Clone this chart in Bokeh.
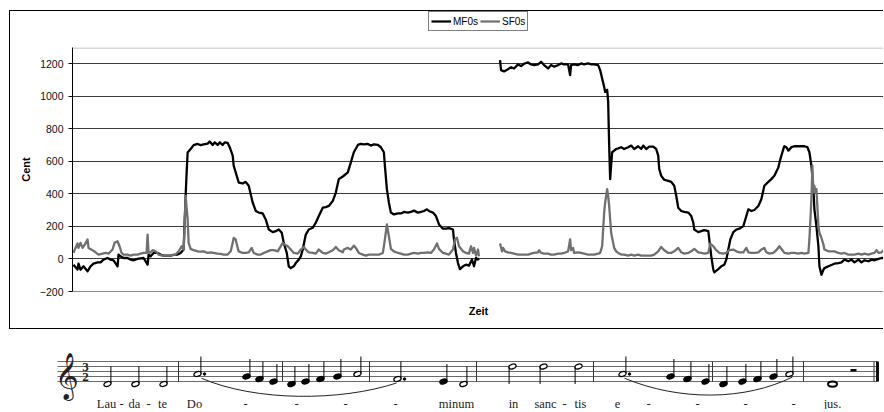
import numpy as np
from bokeh.plotting import figure
from bokeh.models import Range1d, FixedTicker, Legend, LegendItem, Span
from bokeh.layouts import column
from bokeh.embed import file_html
from bokeh.resources import INLINE
from bokeh.core.properties import value

nan = float("nan")

# ---------------- chart data (time in frames, pitch in cent) ----------------
mf0_time = [
    1, 5, 6, 8, 11, 15, 18, 21, 25, 28,
    31, 35, 38, 41, 45, 46, 48, 51, 55, 58,
    61, 65, 68, 71, 75, 76, 78, 81, 85, 88,
    91, 95, 98, 101, 105, 108, 111, 113, 114, 115,
    118, 121, 125, 128, 131, 135, 137, 140, 142, 145,
    147, 150, 152, 155, 157, 160, 161, 163, 166, 170,
    173, 176, 180, 183, 186, 190, 193, 196, 200, 203,
    206, 209, 211, 214, 216, 218, 221, 223, 226, 228,
    230, 233, 236, 240, 243, 246, 250, 253, 256, 260,
    263, 266, 270, 275, 278, 281, 285, 288, 291, 295,
    298, 301, 305, 308, 311, 312, 314, 316, 318, 321,
    325, 328, 331, 335, 338, 341, 345, 348, 351, 354,
    356, 360, 363, 366, 370, 373, 376, 380, 381, 383,
    385, 387, 390, 393, 396, 399, 401, 403, 405, 406,
    nan,
    427, 428, 431, 435, 438, 441, 445, 448, 451, 455,
    458, 461, 465, 468, 471, 475, 478, 481, 485, 488,
    491, 495, 497, 498, 501, 505, 508, 511, 515, 518,
    521, 525, 527, 529, 531, 532, 534, 535, 536, 537,
    538, 539, 541, 543, 545, 548, 551, 555, 558, 561,
    565, 568, 570, 573, 576, 580, 583, 585, 586, 588,
    591, 595, 598, 601, 603, 605, 608, 611, 615, 618,
    620, 621, 625, 628, 631, 635, 636, 638, 640, 641,
    645, 648, 651, 653, 655, 657, 660, 663, 666, 670,
    673, 675, 678, 681, 685, 688, 691, 695, 698, 701,
    705, 707, 710, 711, 713, 715, 718, 721, 725, 728,
    731, 734, 736, 738, 740, 741, 743, 745, 746, 748,
    750, 751, 755, 758, 761, 765, 768, 771, 775, 778,
    781, 785, 788, 791, 795, 798, 801, 805, 808, 811,
]
mf0_cent = [
    -35, -65, -29, -66, -45, -76, -45, -29, -21, -21,
    -4, 6, -4, -8, -45, 27, 16, 6, 6, -4,
    -8, 0, 4, 6, -35, 27, 16, 37, 37, 27,
    21, 21, 21, 25, 27, 37, 58, 390, 532, 655,
    676, 700, 707, 700, 705, 709, 722, 701, 717, 701,
    717, 701, 717, 713, 687, 635, 573, 532, 470, 464,
    474, 450, 346, 295, 285, 280, 243, 181, 165, 171,
    181, 161, 99, 37, -45, -56, -45, -25, -4, 16,
    58, 150, 181, 192, 223, 264, 315, 319, 326, 357,
    408, 491, 507, 532, 594, 656, 701, 707, 705, 707,
    697, 705, 701, 687, 656, 573, 429, 346, 285, 274,
    280, 280, 289, 285, 289, 297, 285, 289, 295, 305,
    295, 285, 264, 212, 186, 186, 190, 181, 120, 37,
    -25, -62, -45, -35, -41, -4, -45, 6, -4, 4,
    nan,
    1223, 1161, 1153, 1167, 1179, 1171, 1196, 1186, 1200, 1208,
    1196, 1192, 1196, 1212, 1192, 1171, 1192, 1182, 1192, 1202,
    1196, 1196, 1130, 1192, 1196, 1192, 1202, 1196, 1202, 1196,
    1196, 1192, 1161, 1109, 1058, 1027, 1040, 967, 700, 491,
    580, 656, 666, 676, 680, 687, 676, 687, 697, 676,
    693, 676, 697, 676, 691, 691, 676, 635, 553, 511,
    487, 480, 474, 450, 388, 315, 295, 289, 285, 264,
    223, 181, 165, 171, 177, 171, 120, 16, -66, -82,
    -62, -45, -35, -4, 58, 120, 165, 181, 186, 202,
    264, 305, 295, 301, 326, 367, 450, 474, 491, 511,
    563, 614, 676, 693, 687, 666, 687, 693, 693, 693,
    693, 687, 656, 573, 429, 305, 202, 78, -45, -97,
    -66, -56, -45, -37, -29, -25, -21, -4, -14, -4,
    -21, -4, -21, -8, -14, -4, -8, 0, 6, 6,
]
sf0_time = [
    1, 3, 5, 6, 8, 10, 13, 15, 16, 20,
    23, 26, 30, 33, 36, 40, 42, 45, 47, 49,
    51, 55, 58, 61, 65, 68, 71, 74, 75, 76,
    78, 80, 83, 86, 90, 93, 96, 100, 103, 106,
    109, 111, 112, 113, 115, 116, 118, 121, 125, 128,
    131, 135, 138, 141, 145, 148, 151, 155, 158, 160,
    161, 163, 165, 166, 170, 173, 176, 179, 181, 185,
    188, 191, 195, 198, 201, 205, 207, 210, 212, 215,
    218, 221, 225, 228, 231, 233, 236, 240, 243, 246,
    250, 253, 256, 260, 263, 266, 270, 271, 275, 278,
    281, 283, 286, 290, 293, 296, 300, 303, 306, 310,
    312, 314, 316, 318, 321, 325, 328, 331, 335, 338,
    341, 345, 348, 351, 355, 358, 361, 364, 366, 370,
    373, 376, 380, 382, 384, 386, 390, 393, 396, 398,
    400, 401, 403, 405, 406,
    nan,
    427, 429, 430, 432, 435, 438, 441, 445, 448, 451,
    455, 458, 461, 465, 466, 468, 471, 475, 478, 481,
    485, 488, 491, 495, 497, 498, 500, 501, 505, 508,
    511, 515, 518, 521, 525, 527, 529, 531, 532, 534,
    535, 536, 538, 540, 541, 543, 545, 548, 551, 555,
    558, 561, 565, 568, 571, 575, 578, 581, 585, 588,
    591, 595, 598, 601, 605, 608, 611, 615, 618, 621,
    625, 628, 631, 635, 637, 640, 643, 646, 650, 653,
    656, 660, 663, 666, 670, 673, 675, 678, 681, 685,
    688, 691, 693, 696, 700, 703, 706, 709, 711, 715,
    718, 721, 725, 728, 731, 735, 736, 738, 739, 740,
    741, 742, 743, 745, 746, 748, 750, 751, 755, 758,
    761, 765, 768, 771, 775, 778, 781, 785, 788, 791,
    795, 798, 801, 803, 805, 808, 810, 812,
]
sf0_cent = [
    37, 68, 95, 68, 99, 68, 95, 120, 68, 54,
    41, 27, 33, 37, 33, 58, 99, 109, 78, 37,
    27, 27, 21, 27, 27, 33, 37, 37, 150, 37,
    41, 54, 47, 27, 21, 21, 21, 25, 27, 47,
    78, 58, 202, 388, 243, 99, 62, 54, 47, 45,
    47, 37, 41, 37, 33, 31, 27, 27, 47, 99,
    130, 120, 68, 47, 37, 37, 41, 68, 37, 27,
    27, 37, 47, 54, 54, 47, 68, 99, 89, 78,
    58, 37, 33, 58, 74, 58, 41, 37, 33, 58,
    37, 33, 41, 54, 74, 54, 41, 58, 68, 58,
    82, 68, 37, 27, 21, 27, 27, 27, 27, 37,
    120, 212, 140, 62, 47, 37, 33, 27, 27, 33,
    37, 33, 37, 37, 41, 37, 58, 95, 62, 37,
    33, 27, 58, 120, 130, 78, 47, 37, 33, 78,
    37, 68, 21, 58, 16,
    nan,
    95, 47, 68, 47, 41, 37, 33, 27, 27, 27,
    27, 33, 37, 41, 54, 37, 33, 33, 27, 27,
    33, 33, 37, 47, 120, 54, 68, 37, 41, 37,
    33, 27, 27, 27, 33, 37, 78, 285, 346, 429,
    388, 326, 161, 99, 68, 47, 37, 27, 27, 21,
    27, 21, 27, 21, 21, 21, 21, 27, 47, 74,
    54, 37, 37, 47, 68, 41, 33, 37, 47, 62,
    41, 37, 33, 37, 95, 78, 54, 37, 33, 37,
    54, 58, 47, 41, 41, 68, 41, 37, 37, 41,
    58, 68, 41, 33, 37, 54, 78, 54, 37, 33,
    37, 37, 33, 37, 33, 37, 120, 367, 573, 408,
    450, 408, 429, 202, 161, 130, 89, 58, 47, 47,
    47, 37, 33, 37, 27, 27, 27, 33, 27, 33,
    27, 33, 37, 54, 37, 41, 54, 27,
]
y_ticks = [-200, 0, 200, 400, 600, 800, 1000, 1200]
series_names = ["MF0s", "SF0s"]
series_colors = ["black", "#707070"]

# ---------------- score data ----------------
note_x = [107, 135, 163,
          197, 246, 259, 273,
          291, 305, 320, 337, 357,
          397, 443, 463,
          512, 543, 578,
          622, 670, 687, 705,
          723, 742, 757, 773, 789,
          832]
note_step = [-1, -1, -1,
             3, 2, 1, 0,
             -1, 0, 1, 2, 3,
             1, 0, -1,
             6, 6, 6,
             3, 2, 1, 0,
             -1, 0, 1, 2, 3,
             -1]
note_kind = ["h", "h", "h",
             "hd", "q", "q", "q",
             "q", "q", "q", "q", "h",
             "hd", "q", "h",
             "h", "h", "h",
             "hd", "q", "q", "q",
             "q", "q", "q", "q", "h",
             "w"]
bar_x = [178, 282, 369, 476, 593, 712, 803]
rest_x = [853]
lyric_x = [106, 121, 134, 148, 162, 194, 245, 296, 345, 395, 456,
           513, 545, 564, 580, 617, 648, 697, 745, 793, 832]
lyric_text = ["Lau", "-", "da", "-", "te", "Do", "-", "-", "-", "-", "minum",
              "in", "sanc", "-", "tis", "e", "-", "-", "-", "-", "jus."]

FONT = "Liberation Sans"
BORDER = "1px solid #000000"

# ---------------- legend strip (top of the chart box) ----------------
top = figure(width=874, height=36, x_range=Range1d(0, 1), y_range=Range1d(0, 1),
             output_backend="svg", toolbar_location=None, min_border=0, frame_align=False)
top.margin = (10, 0, 0, 9)
top.styles = {"border-top": BORDER, "border-left": BORDER}
top.axis.visible = False
top.grid.visible = False
top.outline_line_color = None
top.background_fill_color = "white"
top.border_fill_color = "white"
key_m = top.line(x=[5, 6], y=[5, 5], line_color=series_colors[0], line_width=2.2)
key_s = top.line(x=[5, 6], y=[5, 5], line_color=series_colors[1], line_width=2.2)
legend = Legend(items=[LegendItem(label=series_names[0], renderers=[key_m]),
                       LegendItem(label=series_names[1], renderers=[key_s])],
                orientation="horizontal", location=(418, 16), margin=0,
                padding=2, spacing=2, glyph_width=20, glyph_height=14,
                label_height=14, label_standoff=2,
                label_text_font=FONT, label_text_font_size="10px", label_text_color="black",
                border_line_color="black", border_line_width=1,
                background_fill_color="white", background_fill_alpha=1)
top.add_layout(legend)

# ---------------- chart ----------------
p = figure(width=874, height=283, x_range=Range1d(0, 811), y_range=Range1d(-200, 1300),
           output_backend="svg", toolbar_location=None, frame_align=False,
           min_border_left=62, min_border_right=0, min_border_top=1, min_border_bottom=38)
p.margin = (0, 0, 0, 9)
p.styles = {"border-left": BORDER, "border-bottom": BORDER}
p.background_fill_color = "white"
p.border_fill_color = "white"
p.outline_line_color = None
p.add_layout(Span(location=1297, dimension="width", line_color="#b0b0b0", line_width=1))

p.yaxis.ticker = FixedTicker(ticks=y_ticks)
p.yaxis.major_label_text_font = FONT
p.yaxis.major_label_text_font_size = "10.5px"
p.yaxis.major_label_text_color = "#111111"
p.yaxis.major_label_standoff = 5
p.yaxis.axis_line_color = "black"
p.yaxis.major_tick_line_color = "black"
p.yaxis.major_tick_out = 4
p.yaxis.major_tick_in = 0
p.yaxis.minor_tick_line_color = None
p.yaxis.axis_label = "Cent"
p.yaxis.axis_label_text_font = FONT
p.yaxis.axis_label_text_font_style = "bold"
p.yaxis.axis_label_text_font_size = "11px"
p.yaxis.axis_label_text_color = "black"
p.yaxis.axis_label_standoff = 5

p.xaxis.ticker = FixedTicker(ticks=[])
p.xaxis.major_label_text_font_size = "0px"
p.xaxis.major_label_standoff = 0
p.xaxis.major_tick_line_color = None
p.xaxis.minor_tick_line_color = None
p.xaxis.axis_line_color = "#8a8a8a"
p.xaxis.axis_label = "Zeit"
p.xaxis.axis_label_text_font = FONT
p.xaxis.axis_label_text_font_style = "bold"
p.xaxis.axis_label_text_font_size = "11px"
p.xaxis.axis_label_text_color = "black"
p.xaxis.axis_label_standoff = 13

p.xgrid.visible = False
p.ygrid.ticker = FixedTicker(ticks=y_ticks[1:])
p.ygrid.grid_line_color = "#3a3a3a"
p.ygrid.grid_line_width = 1

p.line(np.array(mf0_time, dtype=float), np.array(mf0_cent, dtype=float),
       line_color=series_colors[0], line_width=2.3, line_join="round")
p.line(np.array(sf0_time, dtype=float), np.array(sf0_cent, dtype=float),
       line_color=series_colors[1], line_width=2.3, line_join="round")

# ---------------- score ----------------
s = figure(width=884, height=80, x_range=Range1d(0, 884), y_range=Range1d(-11.2, 20.8),
           output_backend="svg", toolbar_location=None, min_border=0, frame_align=False)
s.axis.visible = False
s.grid.visible = False
s.outline_line_color = None
s.background_fill_color = "white"
s.border_fill_color = "white"

staff_steps = [0, 2, 4, 6, 8]
s.multi_line(xs=[[57, 877] for _ in staff_steps], ys=[[v, v] for v in staff_steps],
             line_color="#6a6a6a", line_width=1)
s.segment(x0=bar_x, y0=[0] * len(bar_x), x1=bar_x, y1=[8] * len(bar_x),
          line_color="#333333", line_width=1)
s.segment(x0=[873.5], y0=[0], x1=[873.5], y1=[8], line_color="#333333", line_width=1)
s.segment(x0=[877], y0=[0], x1=[877], y1=[8], line_color="#111111", line_width=3)

# clef and time signature
s.text(x=[66], y=[2.6], text=["\U0001D11E"], text_font=value("DejaVu Sans"),
       text_font_size="40px", text_align="center", text_baseline="middle", text_color="#222222")
s.text(x=[85, 85], y=[6.0, 2.0], text=["3", "2"], text_font=value("Liberation Serif"),
       text_font_style="bold", text_font_size="13px", text_align="center",
       text_baseline="middle", text_color="#222222")

# note heads
hx, hy, hfill, hw, hh, ha, hlw = [], [], [], [], [], [], []
sx0, sy0, sy1 = [], [], []
dx, dy = [], []
for x, st, k in zip(note_x, note_step, note_kind):
    hx.append(x)
    hy.append(st)
    if k == "w":
        hfill.append("white"); hw.append(9.0); hh.append(2.1); ha.append(0.0); hlw.append(2.0)
        continue
    hfill.append("black" if k == "q" else "white")
    hw.append(7.5); hh.append(1.9); ha.append(0.35); hlw.append(1.3)
    if st < 4:
        sx0.append(x + 3.4); sy0.append(st + 0.3); sy1.append(st + 7.0)
    else:
        sx0.append(x - 3.4); sy0.append(st - 0.3); sy1.append(st - 7.0)
    if k == "hd":
        dx.append(x + 7.0); dy.append(st)
s.ellipse(x=hx, y=hy, width=hw, height=hh, angle=ha, fill_color=hfill,
          line_color="black", line_width=hlw)
s.segment(x0=sx0, y0=sy0, x1=sx0, y1=sy1, line_color="black", line_width=1)
s.scatter(x=dx, y=dy, size=2.5, marker="circle", color="black")
s.rect(x=rest_x, y=[4.5], width=6, height=1.0, fill_color="black", line_color=None)

# slurs
s.bezier(x0=[201, 624], y0=[1.3, 1.3], x1=[396, 792], y1=[-0.6, 1.8],
         cx0=[255, 680], cy0=[-8.0, -8.0], cx1=[340, 745], cy1=[-8.0, -7.5],
         line_color="#222222", line_width=1)

# lyrics
s.text(x=lyric_x, y=[-8.8] * len(lyric_x), text=lyric_text,
       text_font=value("Liberation Serif"), text_font_size="12.5px",
       text_align="center", text_baseline="middle", text_color="#222222")

layout = column(top, p, s, spacing=0)
open("out.html", "w").write(file_html(layout, INLINE))
